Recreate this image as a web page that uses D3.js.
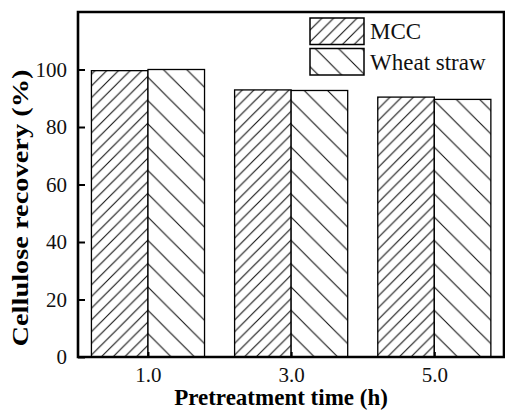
<!DOCTYPE html>
<html>
<head>
<meta charset="utf-8">
<script src="https://cdn.jsdelivr.net/npm/d3@7"></script>
<style>
  body { margin: 0; background: #fff; }
  svg { display: block; }
  svg text { font-family: 'Liberation Serif', 'DejaVu Serif', serif; }
</style>
</head>
<body>
<svg class="chart_svg" width="505" height="410"></svg>
<script>
/* Chart data */
let times = [1, 3, 5];
let time_labels = ["1.0", "3.0", "5.0"];
let mcc = [99.6, 92.9, 90.4];
let wheat_straw = [100.0, 92.7, 89.6];
let y_ticks = [0, 20, 40, 60, 80, 100];
let series_names = ["MCC", "Wheat straw"];

let svg = d3.select("svg.chart_svg");

/* Plot frame */
let plot_left = 78, plot_right = 504, plot_top = 12, plot_bottom = 357;

let x = d3.scaleLinear().domain([0, 6]).range([76.4, 505.9]);
let y = d3.scaleLinear().domain([0, 120]).range([plot_bottom, plot_top]);
let bar_w = 0.79;

/* Hatch patterns, anchored so both series meet at the shared bar edge */
let defs = svg.append("defs");
function add_hatch(id, size, dir, ox, oy) {
    let p = defs.append("pattern")
        .attr("id", id)
        .attr("patternUnits", "userSpaceOnUse")
        .attr("patternTransform", "translate(" + ox + "," + oy + ")")
        .attr("width", size)
        .attr("height", size);
    p.append("rect").attr("width", size).attr("height", size).attr("fill", "#fff");
    let d = (dir === "up")
        ? "M0," + size + " L" + size + ",0 M-2,2 L2,-2 M" + (size - 2) + "," + (size + 2) + " L" + (size + 2) + "," + (size - 2)
        : "M0,0 L" + size + "," + size + " M-2," + (size - 2) + " L2," + (size + 2) + " M" + (size - 2) + ",-2 L" + (size + 2) + ",2";
    p.append("path").attr("d", d).attr("stroke", "#111").attr("stroke-width", 1.1).attr("fill", "none");
}
let mcc_size = 11.7, wheat_size = 23.3;
times.forEach(function (t, i) {
    add_hatch("hatch_mcc_" + i, mcc_size, "up", x(t), plot_bottom);
    add_hatch("hatch_wheat_" + i, wheat_size, "down", x(t), plot_bottom);
});
add_hatch("hatch_mcc_leg", mcc_size, "up", 310, 18);
add_hatch("hatch_wheat_leg", wheat_size, "down", 310, 48.5);

let legend_fills = ["url(#hatch_mcc_leg)", "url(#hatch_wheat_leg)"];

/* Bars */
let g_bars = svg.append("g");
g_bars.selectAll("rect.mcc")
    .data(times)
    .enter()
    .append("rect")
    .attr("class", "mcc")
    .attr("x", function (d) { return x(d - bar_w); })
    .attr("width", function (d) { return x(d) - x(d - bar_w); })
    .attr("y", function (d, i) { return y(mcc[i]); })
    .attr("height", function (d, i) { return y(0) - y(mcc[i]); })
    .attr("fill", function (d, i) { return "url(#hatch_mcc_" + i + ")"; })
    .attr("stroke", "#000")
    .attr("stroke-width", 1.3);

g_bars.selectAll("rect.wheat")
    .data(times)
    .enter()
    .append("rect")
    .attr("class", "wheat")
    .attr("x", function (d) { return x(d); })
    .attr("width", function (d) { return x(d + bar_w) - x(d); })
    .attr("y", function (d, i) { return y(wheat_straw[i]); })
    .attr("height", function (d, i) { return y(0) - y(wheat_straw[i]); })
    .attr("fill", function (d, i) { return "url(#hatch_wheat_" + i + ")"; })
    .attr("stroke", "#000")
    .attr("stroke-width", 1.3);

/* Axes, ticks pointing inward */
let x_axis = svg.append("g")
    .attr("transform", "translate(0," + plot_bottom + ")")
    .call(d3.axisBottom(x).tickValues(times)
        .tickFormat(function (d, i) { return time_labels[i]; })
        .tickSizeInner(-5).tickSizeOuter(0).tickPadding(10));

let y_axis = svg.append("g")
    .attr("transform", "translate(" + plot_left + ",0)")
    .call(d3.axisLeft(y).tickValues(y_ticks)
        .tickSizeInner(-7).tickSizeOuter(0).tickPadding(11));

[x_axis, y_axis].forEach(function (a) {
    a.attr("font-family", null).attr("font-size", null);
    a.select(".domain").remove();
    a.selectAll(".tick line").attr("stroke", "#000").attr("stroke-width", 2);
    a.selectAll(".tick text")
        .attr("fill", "#111")
        .style("font-size", "21px");
});

/* Frame */
svg.append("path")
    .attr("d", "M" + plot_left + "," + plot_top + " L" + plot_right + "," + plot_top + " L" + plot_right + "," + plot_bottom + " L" + plot_left + "," + plot_bottom + " Z")
    .attr("fill", "none")
    .attr("stroke", "#000")
    .attr("stroke-width", 2.6);

/* Axis titles */
svg.append("text")
    .attr("x", 281)
    .attr("y", 404.5)
    .attr("text-anchor", "middle")
    .style("font-weight", "bold")
    .style("font-size", "23px")
    .text("Pretreatment time (h)");

svg.append("text")
    .attr("transform", "translate(28,208) rotate(-90)")
    .attr("text-anchor", "middle")
    .style("font-weight", "bold")
    .style("font-size", "24px")
    .attr("textLength", 277)
    .attr("lengthAdjust", "spacingAndGlyphs")
    .text("Cellulose recovery (%)");

/* Legend */
let legend = svg.append("g");
let legend_rows = legend.selectAll("g")
    .data(series_names)
    .enter()
    .append("g")
    .attr("transform", function (d, i) { return "translate(310," + (18 + i * 30.5) + ")"; });

legend_rows.append("rect")
    .attr("width", 54)
    .attr("height", 26.5)
    .attr("fill", function (d, i) { return legend_fills[i]; })
    .attr("stroke", "#000")
    .attr("stroke-width", 1.5);

legend_rows.append("text")
    .attr("x", 60)
    .attr("y", 21)
    .style("font-size", "23px")
    .attr("fill", "#111")
    .text(function (d) { return d; });
</script>
</body>
</html>
